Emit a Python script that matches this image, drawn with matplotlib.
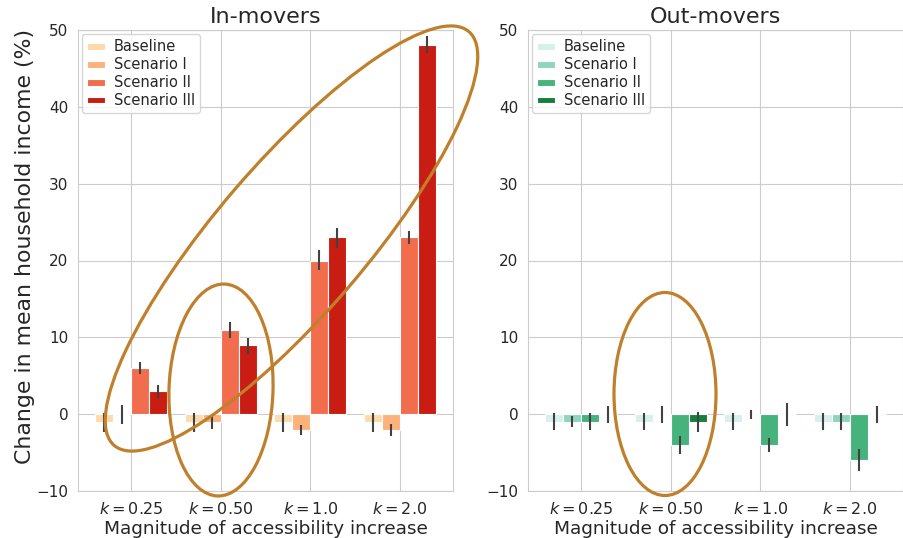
import numpy as np
import matplotlib
matplotlib.use('Agg')
import matplotlib.pyplot as plt
import seaborn as sns
from matplotlib.patches import Ellipse

sns.set_style('whitegrid')
plt.rcParams['font.family'] = ['DejaVu Sans']

k_labels = ['$k = 0.25$', '$k = 0.50$', '$k = 1.0$', '$k = 2.0$']
scenarios = ['Baseline', 'Scenario I', 'Scenario II', 'Scenario III']

# In-movers: mean change per scenario (rows) and k (columns), with CI bounds
in_mean = [[-1, -1, -1, -1],
           [0, -1, -2, -2],
           [6, 11, 20, 23],
           [3, 9, 23, 48]]
in_lo = [[-2.3, -2.3, -2.3, -2.3],
         [-1.3, -1.9, -2.65, -2.9],
         [5.2, 9.9, 18.75, 22.2],
         [2.1, 7.8, 21.6, 47.0]]
in_hi = [[0.2, 0.2, 0.2, 0.2],
         [1.2, -0.2, -1.4, -1.3],
         [6.8, 12.0, 21.4, 23.9],
         [3.8, 9.9, 24.2, 49.2]]

# Out-movers
out_mean = [[-1, -1, -1, -1],
            [-1, 0, 0, -1],
            [-1, -4, -4, -6],
            [0, -1, 0, 0]]
out_lo = [[-2.1, -2.1, -2.1, -2.1],
          [-1.7, -1.1, -0.6, -2.1],
          [-2.1, -5.2, -4.9, -7.4],
          [-1.1, -2.3, -1.5, -1.1]]
out_hi = [[0.1, 0.1, 0.1, 0.1],
          [-0.3, 1.0, 0.5, 0.1],
          [0.1, -2.8, -3.1, -4.5],
          [1.0, 0.3, 1.5, 1.0]]

in_colors = ['#fdd9ab', '#fdb27c', '#f26d4e', '#c91d13']
out_colors = ['#d6f0ec', '#8fd4bd', '#46b37c', '#157f3b']

fig = plt.figure(figsize=(9.04, 5.38), dpi=100)
ax1 = fig.add_axes([78 / 904, 47 / 538, 375 / 904, 461 / 538])
ax2 = fig.add_axes([528 / 904, 47 / 538, 375 / 904, 461 / 538])

width = 0.2
xpos = np.arange(len(k_labels))


def draw_panel(ax, means, los, his, colors, title):
    for j, name in enumerate(scenarios):
        x = xpos + (j - 1.5) * width
        ax.bar(x, means[j], width, color=colors[j], edgecolor='white',
               linewidth=0.8, label=name, zorder=2)
        ax.vlines(x, los[j], his[j], color='#424242', lw=1.5, zorder=3)
    ax.set_ylim(-10, 50)
    ax.set_xticks(xpos)
    ax.set_xticklabels(k_labels, fontsize=11.5)
    ax.tick_params(axis='y', labelsize=11)
    ax.set_xlabel('Magnitude of accessibility increase', fontsize=13.3, labelpad=2)
    ax.set_title(title, fontsize=16, pad=5)
    ax.legend(loc='upper left', fontsize=10.5, handlelength=1.2,
              handleheight=0.35, borderaxespad=0.3, labelspacing=0.2,
              handletextpad=0.6, borderpad=0.35)


draw_panel(ax1, in_mean, in_lo, in_hi, in_colors, 'In-movers')
draw_panel(ax2, out_mean, out_lo, out_hi, out_colors, 'Out-movers')
ax1.set_ylabel('Change in mean household income (%)', fontsize=15.8)
ax1.yaxis.set_label_coords(-0.115, 0.53)

# hand-drawn highlight ellipses (pixel positions, origin bottom-left)
ring = '#c0802b'
for cx, cy, w, h, ang in [(291.5, 538 - 238.5, 545, 150, 49.4),
                          (221, 538 - 390, 104, 212, -1.9),
                          (665, 538 - 394, 102, 203, 0)]:
    e = Ellipse((cx / 100, cy / 100), w / 100, h / 100, angle=ang,
                transform=fig.dpi_scale_trans, fill=False,
                edgecolor=ring, lw=2.3, clip_on=False, zorder=10)
    fig.add_artist(e)

fig.savefig('out.png', dpi=100)
